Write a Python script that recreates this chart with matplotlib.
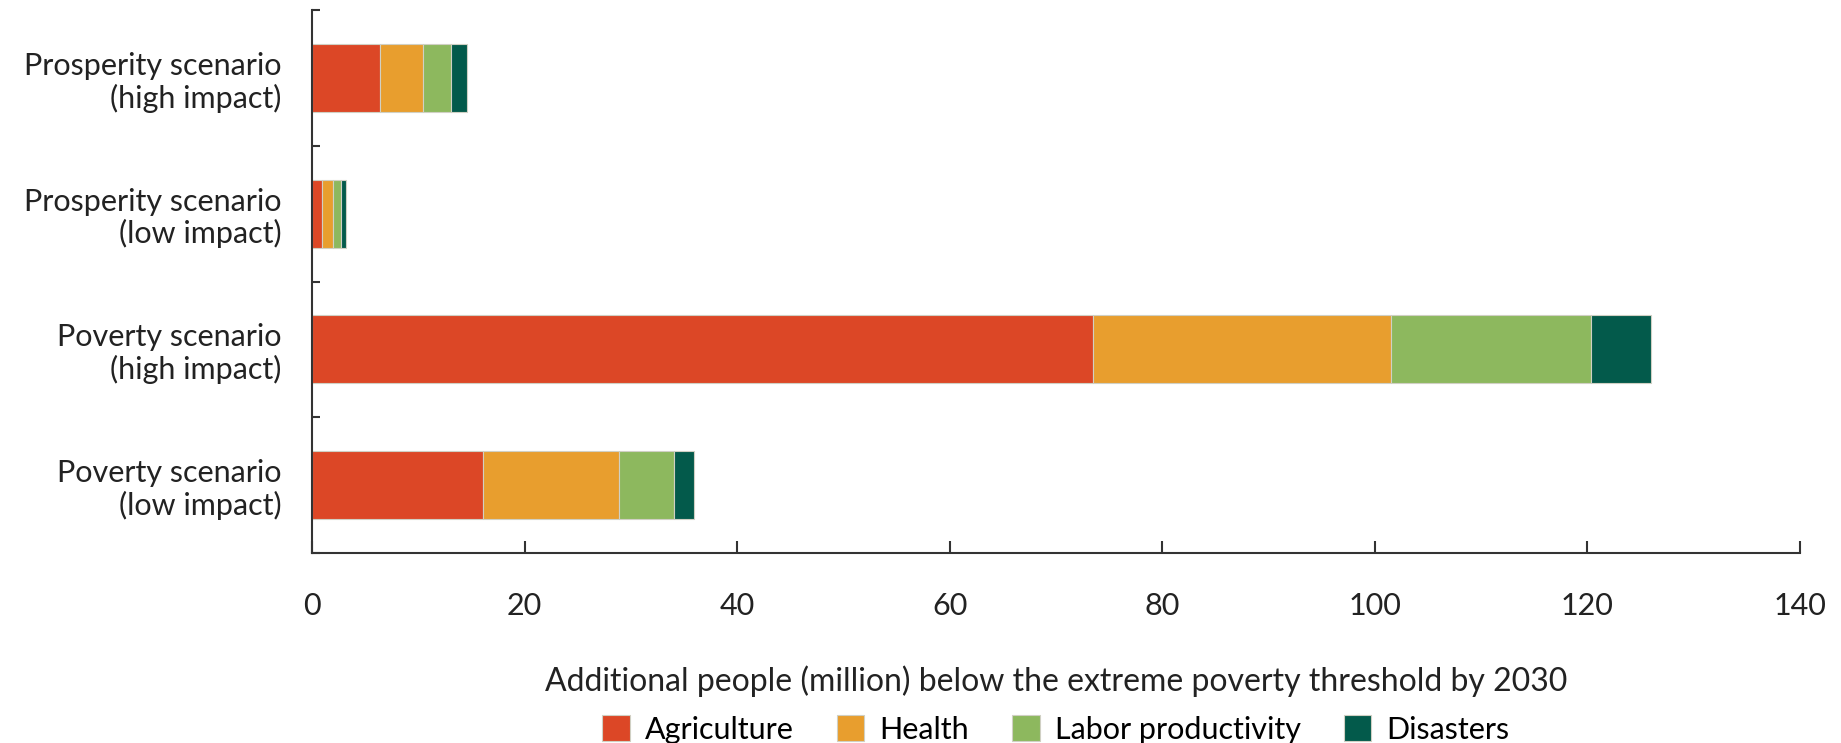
import numpy as np
import matplotlib.pyplot as plt
from matplotlib.ticker import FixedLocator

plt.rcParams['font.family'] = ['Lato', 'DejaVu Sans']

# Scenarios, top to bottom
scenarios = ['Prosperity scenario\n(high impact)', 'Prosperity scenario\n(low impact)',
             'Poverty scenario\n(high impact)', 'Poverty scenario\n(low impact)']
components = ['Agriculture', 'Health', 'Labor productivity', 'Disasters']

# million people
agriculture = [6.4, 0.9, 73.5, 16.1]
health = [4.0, 1.1, 28.0, 12.8]
labor = [2.7, 0.75, 18.8, 5.2]
disasters = [1.5, 0.45, 5.7, 1.8]

colors = ['#dc4726', '#e89e2e', '#8db85e', '#035a4b']
txt = '#222222'

fig = plt.figure(figsize=(18.41, 7.43), dpi=100)
ax = fig.add_axes([0.1695, 0.2557, 0.8082, 0.7308])

y = np.arange(len(scenarios))
left = np.zeros(len(scenarios))
for name, vals, c in zip(components, [agriculture, health, labor, disasters], colors):
    ax.barh(y, vals, left=left, height=0.5, color=c, edgecolor='#d0d0c4',
            linewidth=0.8, label=name)
    left += np.array(vals)

ax.set_ylim(3.5, -0.5)
ax.set_xlim(0, 140)
ax.set_xticks(np.arange(0, 141, 20))

ax.set_yticks(y)
ax.set_yticklabels(scenarios, fontsize=22, linespacing=1.15, ha='right', color=txt)
ax.yaxis.set_minor_locator(FixedLocator(np.arange(-0.5, 3.6, 1)))
ax.tick_params(axis='y', which='major', length=0, pad=22)
ax.tick_params(axis='y', which='minor', direction='in', length=6, width=1.5, color='#333333')
ax.tick_params(axis='x', direction='in', length=9, width=1.5, color='#333333',
               labelsize=22, labelcolor=txt, pad=28)

for s in ['top', 'right']:
    ax.spines[s].set_visible(False)
for s in ['left', 'bottom']:
    ax.spines[s].set_linewidth(1.5)
    ax.spines[s].set_color('#333333')

ax.set_xlabel('Additional people (million) below the extreme poverty threshold by 2030',
              fontsize=23, labelpad=33, color=txt)

ax.legend(loc='center', bbox_to_anchor=(0.5, -0.325), ncol=4, frameon=False,
          fontsize=22, handlelength=0.9, handleheight=0.9, handletextpad=0.5,
          columnspacing=1.4)

fig.savefig('out.png', dpi=100)
